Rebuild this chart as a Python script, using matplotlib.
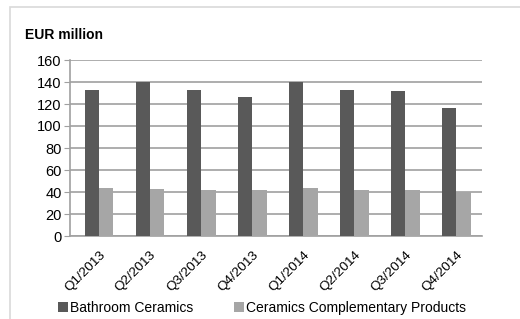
import numpy as np
import matplotlib.pyplot as plt
from matplotlib.patches import Rectangle

plt.rcParams['font.family'] = ['Liberation Sans', 'DejaVu Sans']

quarters = ['Q1/2013', 'Q2/2013', 'Q3/2013', 'Q4/2013',
            'Q1/2014', 'Q2/2014', 'Q3/2014', 'Q4/2014']
bathroom = [133, 140, 133, 126, 140, 133, 132, 116]
complementary = [44, 43, 42, 41.5, 44, 42, 42, 40]
yticks = [0, 20, 40, 60, 80, 100, 120, 140, 160]

fig = plt.figure(figsize=(5.2, 3.19), dpi=100)
W, H = 520, 319

# chart area border
fig.patches.append(Rectangle((10 / W, -0.1), 1.2, 1 - 7 / H + 0.1,
                             transform=fig.transFigure, fill=False,
                             edgecolor='#d9d9d9', linewidth=1.2))

ax = fig.add_axes([70 / W, 1 - 236 / H, 412 / W, 176 / H])
x = np.arange(len(quarters))
w = 0.28
ax.bar(x - w / 2, bathroom, w, color='#595959', label='Bathroom Ceramics', zorder=3)
ax.bar(x + w / 2, complementary, w, color='#a6a6a6',
       label='Ceramics Complementary Products', zorder=3)

ax.set_xlim(-0.57, len(quarters) - 0.5)
ax.set_ylim(0, 160)
ax.set_yticks(yticks)
ax.yaxis.grid(True, color='#a0a0a0', linewidth=1.2, zorder=0)
for s in ['top', 'right']:
    ax.spines[s].set_visible(False)
ax.spines['left'].set_color('#a0a0a0')
ax.spines['bottom'].set_color('#a0a0a0')
ax.spines['left'].set_linewidth(1.2)
ax.spines['bottom'].set_linewidth(1.2)
ax.tick_params(axis='y', length=4, color='#a0a0a0', labelsize=10.5, pad=2)
ax.tick_params(axis='x', length=0, labelsize=9.7, pad=9)
ax.set_xticks(x)
ax.set_xticklabels(quarters, rotation=45, ha='right', rotation_mode='anchor')

fig.text(25 / W, 1 - 35 / H, 'EUR million', fontsize=10, fontweight='bold',
         va='center', ha='left')

fig.legend(loc='center', bbox_to_anchor=(262 / W, 1 - 308 / H), ncol=2,
           frameon=False, fontsize=10, handlelength=0.7, handleheight=0.7,
           handletextpad=0.1, columnspacing=3.0, borderpad=0)

fig.savefig('out.png', dpi=100)
